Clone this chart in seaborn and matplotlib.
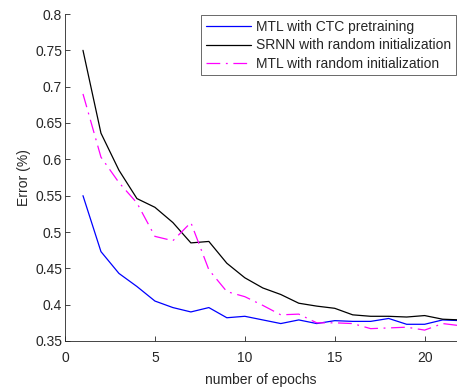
import pandas as pd
import matplotlib.pyplot as plt
import seaborn as sns

epochs = list(range(1, 23))
mtl_ctc = [0.550, 0.473, 0.443, 0.425, 0.405, 0.396, 0.390, 0.396, 0.382, 0.384, 0.379,
           0.374, 0.379, 0.374, 0.378, 0.377, 0.377, 0.381, 0.373, 0.373, 0.379, 0.378]
srnn_rand = [0.750, 0.636, 0.585, 0.546, 0.534, 0.513, 0.485, 0.487, 0.457, 0.437, 0.423,
             0.414, 0.402, 0.398, 0.395, 0.386, 0.384, 0.384, 0.383, 0.385, 0.380, 0.379]
mtl_rand = [0.690, 0.603, 0.568, 0.540, 0.494, 0.488, 0.513, 0.448, 0.418, 0.411, 0.399,
            0.386, 0.387, 0.375, 0.375, 0.374, 0.367, 0.368, 0.369, 0.365, 0.374, 0.371]
labels = ["MTL with CTC pretraining", "SRNN with random initialization",
          "MTL with random initialization"]

sns.set_style("ticks")
plt.rcParams['font.family'] = ['Liberation Sans', 'DejaVu Sans']
plt.rcParams['xtick.direction'] = 'in'
plt.rcParams['ytick.direction'] = 'in'

fig = plt.figure(figsize=(4.57, 3.88), dpi=100)
ax = fig.add_axes([65 / 457, 1 - 341 / 388, 392 / 457, 327 / 388])

dashdot = (0, (11, 4.5, 1.5, 4.5))
styles = [('blue', '-'), ('black', '-'), ('magenta', dashdot)]
for vals, lab, (c, ls) in zip([mtl_ctc, srnn_rand, mtl_rand], labels, styles):
    sns.lineplot(x=epochs, y=vals, ax=ax, color=c, linestyle=ls, linewidth=0.9, label=lab)

ax.set_xlim(0, 21.8)
ax.set_ylim(0.35, 0.8)
ax.set_xticks([0, 5, 10, 15, 20])
ax.set_yticks([0.35, 0.4, 0.45, 0.5, 0.55, 0.6, 0.65, 0.7, 0.75, 0.8])
ax.set_yticklabels(['0.35', '0.4', '0.45', '0.5', '0.55', '0.6', '0.65', '0.7', '0.75', '0.8'])
ax.tick_params(labelsize=10, colors='#262626', length=3.5, width=0.6)
ax.tick_params(axis='x', pad=7)
ax.tick_params(axis='y', pad=2)
ax.set_xlabel("number of epochs", fontsize=10, color='#262626', labelpad=6)
ax.set_ylabel("Error (%)", fontsize=10, color='#262626', labelpad=3)
for s in ['left', 'bottom']:
    ax.spines[s].set_linewidth(0.6)
    ax.spines[s].set_color('#262626')
sns.despine(ax=ax)

leg = ax.legend(loc='upper right', bbox_to_anchor=(1.0, 1.0), fontsize=10,
                frameon=True, fancybox=False, borderaxespad=0.1, handlelength=3.2,
                handletextpad=0.35, labelspacing=0.3, borderpad=0.35)
leg.get_frame().set_edgecolor('#262626')
leg.get_frame().set_linewidth(0.6)

fig.savefig("out.png", dpi=100)
